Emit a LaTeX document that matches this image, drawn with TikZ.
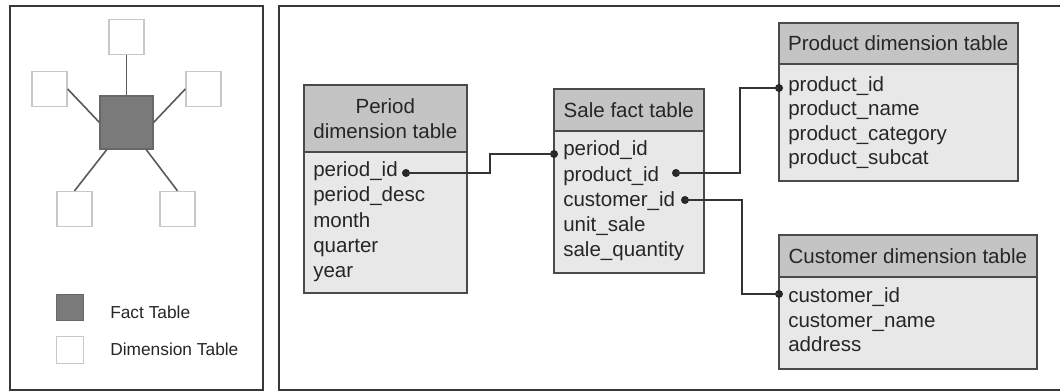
\documentclass[tikz,border=0pt]{standalone}
\usepackage{fontspec}
\setmainfont{Liberation Sans}
\definecolor{hdrgray}{HTML}{C4C4C4}
\definecolor{bodygray}{HTML}{E8E8E8}
\definecolor{edgegray}{HTML}{4A4A4A}
\definecolor{factgray}{HTML}{7A7A7A}
\definecolor{dimedge}{HTML}{C8C8C8}
\begin{document}
\begin{tikzpicture}[x=0.75pt,y=-0.75pt,
  frame/.style={draw=black!78,line width=1.6pt},
  dimsq/.style={draw=dimedge,fill=white,line width=1pt,minimum size=26.25pt,inner sep=0pt},
  factsq/.style={draw=factgray!85!black,fill=factgray,line width=0.8pt,minimum size=39.75pt,inner sep=0pt},
  spoke/.style={draw=black!65,line width=1.2pt},
  legend/.style={anchor=base west,inner sep=0pt,font=\fontsize{13}{15}\selectfont,text=black!85},
  hdr/.style={draw=edgegray,fill=hdrgray,line width=1.2pt,anchor=north west,inner sep=0pt},
  bdy/.style={draw=edgegray,fill=bodygray,line width=1.2pt,anchor=north west,inner sep=0pt},
  title/.style={align=center,inner sep=0pt,font=\fontsize{15.4}{18.75}\selectfont,text=black!85},
  field/.style={anchor=base west,inner sep=0pt,font=\fontsize{15.4}{18.75}\selectfont,text=black!85},
  dot/.style={circle,fill=black!85,inner sep=0pt,minimum size=6pt},
  link/.style={draw=black!80,line width=1.1pt}
]
\useasboundingbox (0,0) rectangle (1060,392);

% ---------- left panel: star schema sketch and legend ----------
\draw[frame] (10,6) rectangle (263,390);

\node[dimsq] (top) at (126.5,37) {};
\node[dimsq] (lft) at (49.5,89) {};
\node[dimsq] (rgt) at (203.5,89) {};
\node[dimsq] (bl)  at (74.5,209) {};
\node[dimsq] (br)  at (177.5,209) {};
\node[factsq] (fact) at (126.5,122.5) {};

\draw[spoke] (top.south) -- (fact.north);
\draw[spoke] (lft.east) -- (fact.west);
\draw[spoke] (rgt.west) -- (fact.east);
\draw[spoke] (fact.-126) -- (bl.north);
\draw[spoke] (fact.-54) -- (br.north);

\node[factsq,minimum size=20pt] (keyfact) at (70,307.5) {};
\node[dimsq,minimum size=20pt] (keydim) at (70,350) {};
\node[legend] (keyfacttxt) at (110,318) {Fact Table};
\node[legend] (keydimtxt) at (110,355) {Dimension Table};

% ---------- right panel: sale star schema ----------
\draw[frame] (1060,6) -- (279,6) -- (279,390) -- (1060,390);

% Period dimension table
\node[bdy,minimum width=163*0.75pt,minimum height=208*0.75pt] (perB) at (303,84) {};
\node[hdr,minimum width=163*0.75pt,minimum height=67*0.75pt] (perH) at (303,84) {};
\node[title] (perT) at (perH.center) {Period\\dimension table};
\node[field] (per1) at (313,177) {period\_id};
\node[field] (per2) at (313,202) {period\_desc};
\node[field] (per3) at (313,227) {month};
\node[field] (per4) at (313,252) {quarter};
\node[field] (per5) at (313,277) {year};

% Sale fact table
\node[bdy,minimum width=150*0.75pt,minimum height=184*0.75pt] (saleB) at (553,88) {};
\node[hdr,minimum width=150*0.75pt,minimum height=42*0.75pt] (saleH) at (553,88) {};
\node[title] (saleT) at (saleH.center) {Sale fact table};
\node[field] (sale1) at (563,156) {period\_id};
\node[field] (sale2) at (563,181) {product\_id};
\node[field] (sale3) at (563,206) {customer\_id};
\node[field] (sale4) at (563,231) {unit\_sale};
\node[field] (sale5) at (563,256) {sale\_quantity};

% Product dimension table
\node[bdy,minimum width=239*0.75pt,minimum height=158*0.75pt] (prodB) at (778,22) {};
\node[hdr,minimum width=239*0.75pt,minimum height=41*0.75pt] (prodH) at (778,22) {};
\node[title] (prodT) at (prodH.center) {Product dimension table};
\node[field] (prod1) at (788,92) {product\_id};
\node[field] (prod2) at (788,116) {product\_name};
\node[field] (prod3) at (788,141) {product\_category};
\node[field] (prod4) at (788,165) {product\_subcat};

% Customer dimension table
\node[bdy,minimum width=258*0.75pt,minimum height=134*0.75pt] (custB) at (778,234) {};
\node[hdr,minimum width=258*0.75pt,minimum height=42*0.75pt] (custH) at (778,234) {};
\node[title] (custT) at (custH.center) {Customer dimension table};
\node[field] (cust1) at (788,302) {customer\_id};
\node[field] (cust2) at (788,327) {customer\_name};
\node[field] (cust3) at (788,351) {address};

% key dots
\node[dot] (perK)   at (406,173) {};
\node[dot] (saleKp) at (554,154) {};
\node[dot] (saleKr) at (676,173) {};
\node[dot] (saleKc) at (685,200) {};
\node[dot] (prodK)  at (779,88) {};
\node[dot] (custK)  at (779,294) {};

% joins
\draw[link] (perK.center) -- ++(84,0) |- (saleKp.center);
\draw[link] (saleKr.center) -- ++(64,0) |- (prodK.center);
\draw[link] (saleKc.center) -- ++(57,0) |- (custK.center);
\end{tikzpicture}
\end{document}
